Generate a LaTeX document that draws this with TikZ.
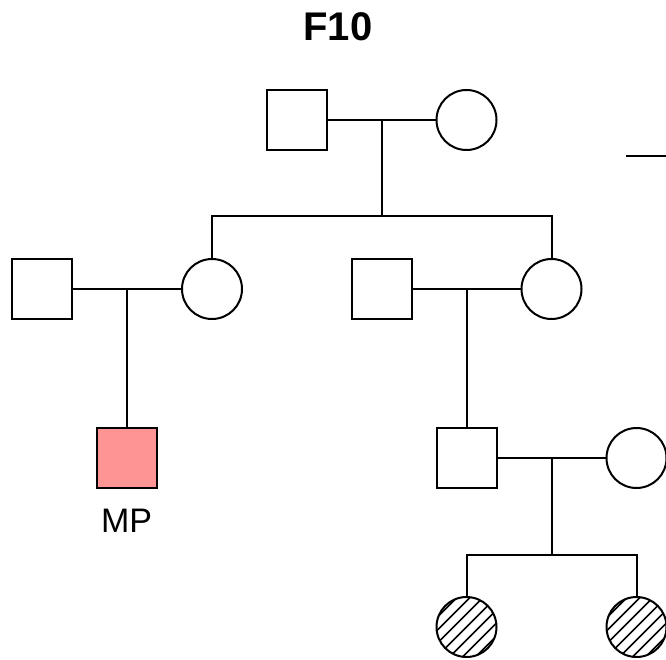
\documentclass[tikz,border=0pt]{standalone}
\usepackage{fontspec}
\setmainfont{Liberation Sans}
\usepackage{xcolor}
\definecolor{mppink}{RGB}{255,148,148}
\tikzset{
  male/.style={rectangle,draw,line width=2pt,minimum size=60pt,inner sep=0pt},
  female/.style={circle,draw,line width=2pt,minimum size=60pt,inner sep=0pt},
  proband/.style={male,fill=mppink},
  hatched/.style={female,path picture={
    \foreach \k in {-5,...,5}
      \draw[line width=1.5pt] ([shift={(\k*6.5-40,\k*6.5+40)}]path picture bounding box.center) -- ++(80,-80);}},
}

\begin{document}
\begin{tikzpicture}[x=1pt,y=-1pt,line width=2pt]
\useasboundingbox (0,0) rectangle (666,660);
\node at (338,27) (title) {\fontsize{40}{48}\selectfont\bfseries F10};
% first generation
\node at (297,120) [male] (gf) {};
\node at (466.5,120) [female] (gm) {};
% second generation
\node at (41.5,289) [male] (u1) {};
\node at (212,289) [female] (d1) {};
\node at (381.5,289) [male] (u2) {};
\node at (551.5,289) [female] (d2) {};
% third generation
\node at (126.5,458) [proband] (mp) {};
\node at (126.5,521) (mplabel) {\fontsize{34}{40}\selectfont MP};
\node at (466.5,458) [male] (s1) {};
\node at (636.5,458) [female] (w1) {};
% fourth generation
\node at (466.5,627) [hatched] (c1) {};
\node at (636.5,627) [hatched] (c2) {};
% junctions
\coordinate (m0) at (382,120);
\coordinate (sib0) at (382,216.5);
\coordinate (m1) at (126.5,289);
\coordinate (m2) at (466.5,289);
\coordinate (m3) at (551.5,458);
\coordinate (sib3) at (551.5,555);
\coordinate (cutA) at (626,156);
\coordinate (cutB) at (666,156);
\draw (gf) -- (gm);
\draw (m0) -- (sib0);
\draw (d1.north) |- (sib0) -| (d2.north);
\draw (u1) -- (d1);
\draw (m1) -- (mp.north);
\draw (u2) -- (d2);
\draw (m2) -- (s1.north);
\draw (s1) -- (w1);
\draw (m3) -- (sib3);
\draw (c1.north) |- (sib3) -| (c2.north);
\draw (cutA) -- (cutB);
\end{tikzpicture}
\end{document}
